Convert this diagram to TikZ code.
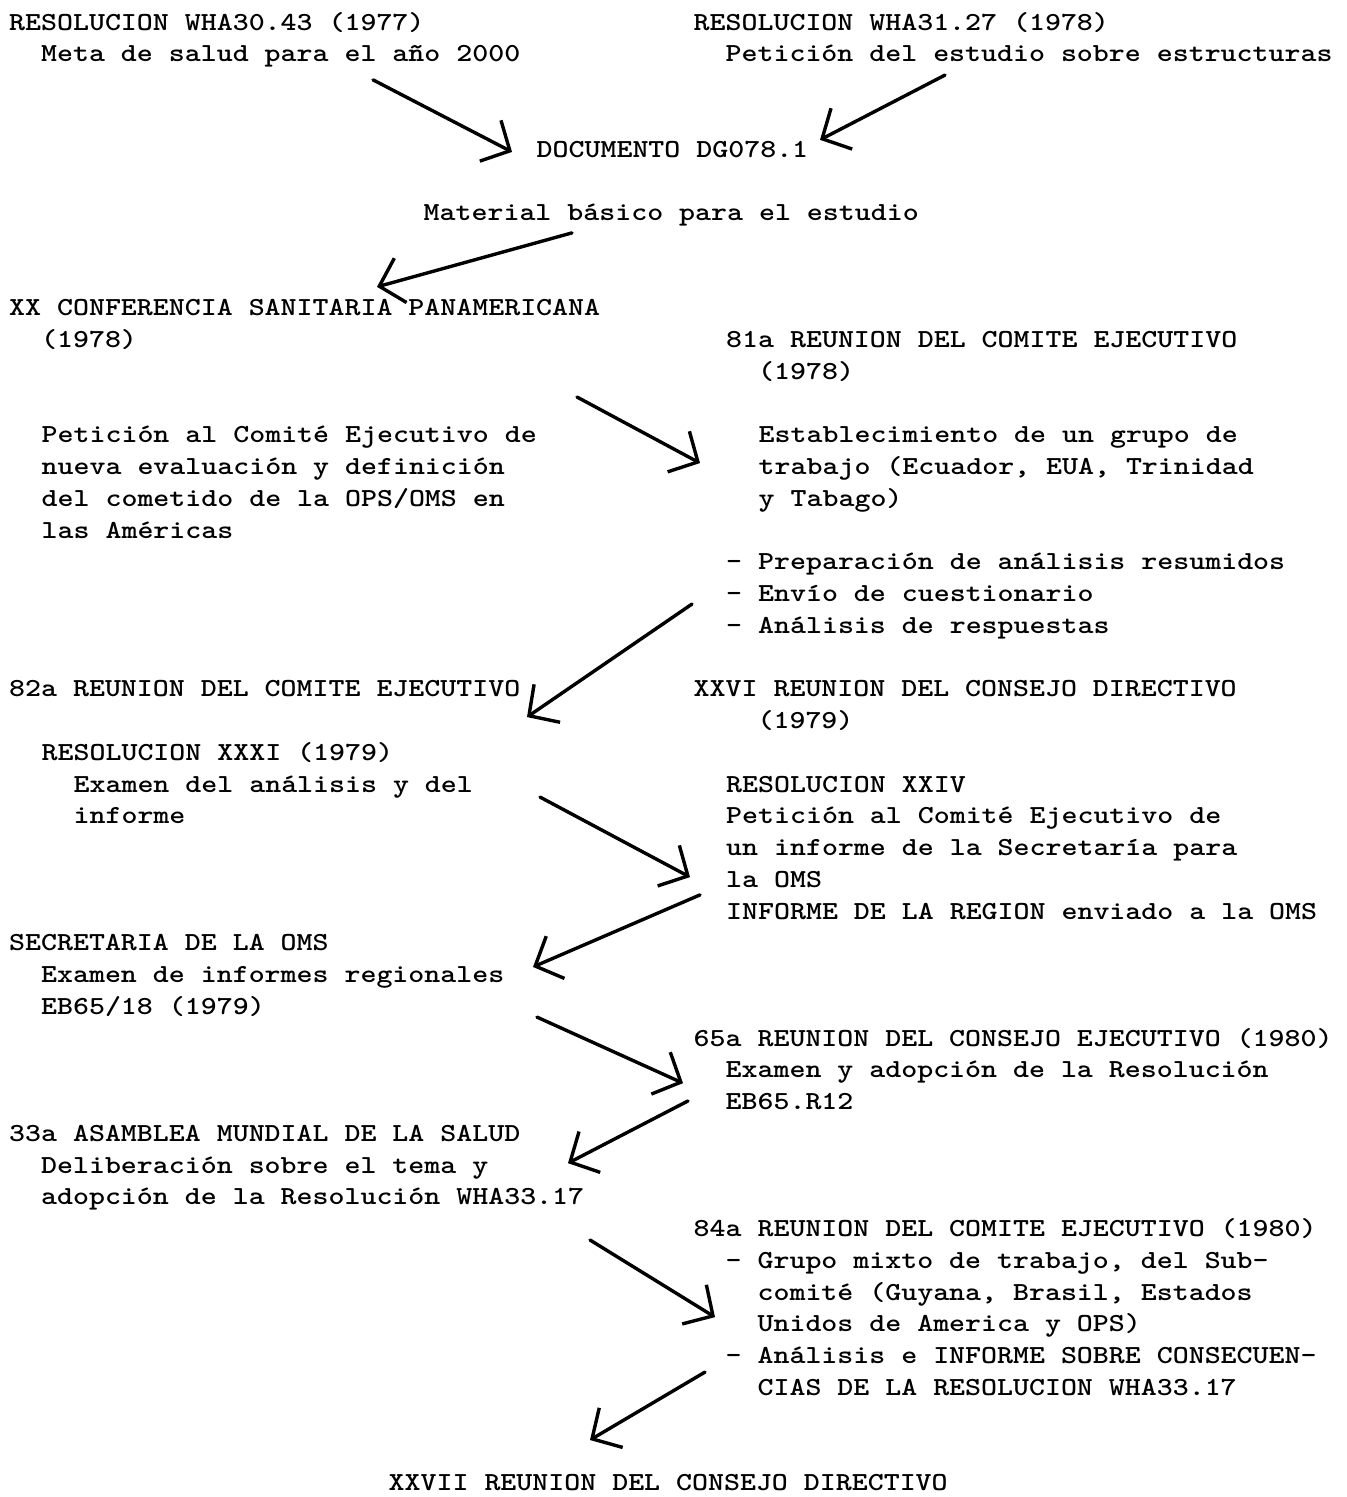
\documentclass[tikz,border=0pt]{standalone}
\usepackage{graphicx}
\usepackage{tikz}
\usetikzlibrary{arrows.meta}
\newcommand{\maquina}{\ttfamily\bfseries\fontsize{26}{31.75}\selectfont\frenchspacing}
\newcommand{\maq}[1]{\scalebox{1.17}[1]{\begin{tabular}[t]{@{}l@{}}#1\end{tabular}}}

\begin{document}
\begin{tikzpicture}[x=1pt, y=-31.75pt,
    texto/.style={anchor=base west, inner sep=0pt, font=\maquina},
    flecha/.style={line width=3.4pt, line cap=round, -{Straight Barb[length=22pt, width=46pt]}}]
    \useasboundingbox (0pt,30pt) rectangle (1347pt,-1467pt);

    % Resoluciones de partida
    \node[texto] (wha3043) at (9,0) {\maq{RESOLUCION WHA30.43 (1977)\\~~Meta de salud para el año 2000}};
    \node[texto] (wha3127) at (693.5,0) {\maq{RESOLUCION WHA31.27 (1978)\\~~Petición del estudio sobre estructuras}};
    \node[texto] (dg781) at (536.5,4) {\maq{DOCUMENTO DG078.1}};
    \node[texto] (material) at (423.5,6) {\maq{Material básico para el estudio}};

    % 1978
    \node[texto] (conf20) at (9,9) {\maq{XX CONFERENCIA SANITARIA PANAMERICANA\\~~(1978)}};
    \node[texto] (ce81) at (726,10) {\maq{81a REUNION DEL COMITE EJECUTIVO\\~~(1978)}};
    \node[texto] (peticion) at (41.5,13) {\maq{Petición al Comité Ejecutivo de\\nueva evaluación y definición\\del cometido de la OPS/OMS en\\las Américas}};
    \node[texto] (grupo) at (758.5,13) {\maq{Establecimiento de un grupo de\\trabajo (Ecuador, EUA, Trinidad\\y Tabago)}};
    \node[texto] (tareas) at (726,17) {\maq{- Preparación de análisis resumidos\\- Envío de cuestionario\\- Análisis de respuestas}};

    % 1979
    \node[texto] (ce82) at (9,21) {\maq{82a REUNION DEL COMITE EJECUTIVO}};
    \node[texto] (res31) at (41.5,23) {\maq{RESOLUCION XXXI (1979)\\~~Examen del análisis y del\\~~informe}};
    \node[texto] (cd26) at (693.5,21) {\maq{XXVI REUNION DEL CONSEJO DIRECTIVO\\~~~~(1979)}};
    \node[texto] (res24) at (726,24) {\maq{RESOLUCION XXIV\\Petición al Comité Ejecutivo de\\un informe de la Secretaría para\\la OMS\\INFORME DE LA REGION enviado a la OMS}};
    \node[texto] (secretaria) at (9,29) {\maq{SECRETARIA DE LA OMS\\~~Examen de informes regionales\\~~EB65/18 (1979)}};

    % 1980
    \node[texto] (ce65) at (693.5,32) {\maq{65a REUNION DEL CONSEJO EJECUTIVO (1980)\\~~Examen y adopción de la Resolución\\~~EB65.R12}};
    \node[texto] (asamblea) at (9,35) {\maq{33a ASAMBLEA MUNDIAL DE LA SALUD\\~~Deliberación sobre el tema y\\~~adopción de la Resolución WHA33.17}};
    \node[texto] (ce84) at (693.5,38) {\maq{84a REUNION DEL COMITE EJECUTIVO (1980)\\~~- Grupo mixto de trabajo, del Sub-\\~~~~comité (Guyana, Brasil, Estados\\~~~~Unidos de America y OPS)\\~~- Análisis e INFORME SOBRE CONSECUEN-\\~~~~CIAS DE LA RESOLUCION WHA33.17}};
    \node[texto] (cd27) at (388.5,46) {\maq{XXVII REUNION DEL CONSEJO DIRECTIVO}};

    % Extremos de las flechas
    \coordinate (f1a) at (373,1.57);  \coordinate (f1b) at (512,3.84);
    \coordinate (f2a) at (945,1.42);  \coordinate (f2b) at (820,3.46);
    \coordinate (f3a) at (572,6.39);  \coordinate (f3b) at (377,8.09);
    \coordinate (f4a) at (577,11.56); \coordinate (f4b) at (700,13.64);
    \coordinate (f5a) at (692,18.08); \coordinate (f5b) at (527,21.64);
    \coordinate (f6a) at (540,24.16); \coordinate (f6b) at (690,26.68);
    \coordinate (f7a) at (700,27.24); \coordinate (f7b) at (533,29.51);
    \coordinate (f8a) at (537,31.09); \coordinate (f8b) at (683,33.17);
    \coordinate (f9a) at (688,33.73); \coordinate (f9b) at (568,35.69);
    \coordinate (f10a) at (590,38.11); \coordinate (f10b) at (715,40.54);
    \coordinate (f11a) at (705,42.27); \coordinate (f11b) at (590,44.41);

    \foreach \i in {1,...,11}
        \draw[flecha] (f\i a) -- (f\i b);

\end{tikzpicture}
\end{document}
